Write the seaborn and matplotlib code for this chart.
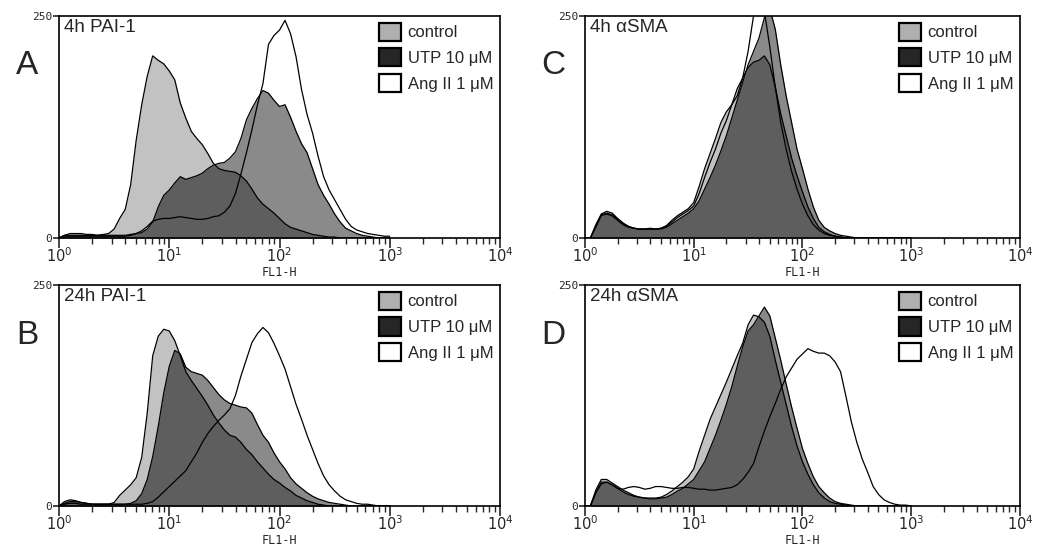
import numpy as np
import pandas as pd
import matplotlib
matplotlib.use("Agg")
import matplotlib.pyplot as plt
import seaborn as sns
from matplotlib.patches import Patch
from matplotlib.ticker import LogLocator, NullFormatter, FixedLocator, FixedFormatter

# =====================================================
# DATA  (histogram counts)
# =====================================================

# log10(FL1-H) positions of the histogram samples
LOG_FL1 = [
    0.00, 0.05, 0.10, 0.15, 0.20, 0.25, 0.30, 0.35, 0.40, 0.45,
    0.50, 0.55, 0.60, 0.65, 0.70, 0.75, 0.80, 0.85, 0.90, 0.95,
    1.00, 1.05, 1.10, 1.15, 1.20, 1.25, 1.30, 1.35, 1.40, 1.45,
    1.50, 1.55, 1.60, 1.65, 1.70, 1.75, 1.80, 1.85, 1.90, 1.95,
    2.00, 2.05, 2.10, 2.15, 2.20, 2.25, 2.30, 2.35, 2.40, 2.45,
    2.50, 2.55, 2.60, 2.65, 2.70, 2.75, 2.80, 2.85, 2.90, 2.95,
    3.00,
]

# A: 4h PAI-1
ctrl_A = [
    0, 3, 5, 5, 5, 4, 4, 3, 4, 5,
    10, 22, 32, 60, 110, 150, 182, 205, 200, 196,
    188, 178, 152, 135, 120, 112, 105, 95, 84, 78,
    76, 75, 74, 70, 64, 55, 45, 38, 33, 28,
    22, 16, 12, 10, 8, 6, 4, 3, 2, 1,
    1, 0, 0, 0, 0, 0, 0, 0, 0, 0,
    0,
]
utp_A = [
    0, 3, 3, 3, 3, 3, 3, 3, 3, 3,
    3, 3, 3, 4, 5, 6, 10, 18, 35, 48,
    54, 62, 69, 66, 68, 70, 73, 78, 82, 84,
    85, 90, 97, 112, 133, 146, 157, 166, 163, 155,
    148, 150, 136, 120, 106, 96, 78, 60, 48, 38,
    27, 18, 11, 8, 5, 3, 2, 1, 0, 0,
    0,
]
ang_A = [
    0, 2, 2, 2, 2, 2, 2, 2, 2, 2,
    2, 2, 2, 3, 5, 8, 13, 19, 21, 22,
    22, 23, 24, 23, 22, 21, 21, 22, 24, 25,
    29, 36, 50, 72, 96, 122, 150, 174, 218, 228,
    234, 245, 230, 204, 167, 139, 118, 92, 69, 54,
    43, 32, 21, 13, 9, 7, 5, 4, 3, 2,
    2,
]

# B: 24h PAI-1
ctrl_B = [
    0, 3, 5, 5, 4, 3, 2, 2, 2, 2,
    4, 12, 18, 24, 32, 55, 105, 170, 192, 200,
    198, 187, 170, 152, 142, 133, 124, 114, 103, 94,
    86, 80, 78, 72, 64, 58, 50, 43, 36, 30,
    26, 21, 17, 12, 9, 6, 4, 2, 1, 0,
    0, 0, 0, 0, 0, 0, 0, 0, 0, 0,
    0,
]
utp_B = [
    0, 5, 7, 6, 4, 3, 2, 2, 2, 2,
    2, 2, 2, 3, 6, 14, 30, 56, 90, 128,
    158, 176, 172, 157, 152, 150, 148, 142, 134, 126,
    120, 116, 114, 112, 111, 105, 92, 80, 72, 60,
    50, 42, 32, 25, 20, 15, 11, 8, 6, 4,
    3, 2, 1, 0, 0, 0, 0, 0, 0, 0,
    0,
]
ang_B = [
    0, 2, 3, 3, 2, 2, 2, 2, 2, 2,
    2, 2, 2, 2, 2, 2, 3, 5, 10, 16,
    22, 28, 34, 40, 50, 60, 72, 82, 90, 97,
    103, 110, 125, 147, 166, 185, 195, 202, 196, 184,
    170, 155, 135, 115, 98, 80, 64, 48, 34, 24,
    17, 11, 7, 5, 3, 2, 2, 1, 0, 0,
    0,
]

# C: 4h aSMA
ctrl_C = [
    0, 0, 15, 27, 30, 28, 22, 17, 13, 11,
    10, 10, 11, 10, 11, 14, 20, 25, 29, 33,
    40, 58, 78, 95, 112, 130, 142, 150, 168, 180,
    192, 198, 200, 205, 195, 170, 140, 115, 90, 70,
    52, 35, 22, 12, 7, 4, 2, 1, 0, 0,
    0, 0, 0, 0, 0, 0, 0, 0, 0, 0,
    0,
]
utp_C = [
    0, 0, 12, 25, 27, 25, 20, 15, 12, 11,
    10, 10, 10, 10, 10, 12, 16, 20, 24, 28,
    33, 42, 55, 68, 82, 98, 115, 135, 155, 175,
    195, 210, 225, 248, 258, 235, 195, 160, 130, 100,
    78, 55, 35, 20, 12, 8, 5, 3, 2, 1,
    0, 0, 0, 0, 0, 0, 0, 0, 0, 0,
    0,
]
ang_C = [
    0, 0, 13, 26, 28, 26, 21, 16, 13, 11,
    10, 10, 10, 10, 11, 13, 18, 23, 27, 31,
    36, 50, 68, 85, 100, 118, 132, 150, 160, 180,
    210, 250, 268, 255, 215, 170, 130, 100, 75, 55,
    38, 25, 15, 9, 5, 3, 2, 1, 0, 0,
    0, 0, 0, 0, 0, 0, 0, 0, 0, 0,
    0,
]

# D: 24h aSMA
ctrl_D = [
    0, 0, 18, 30, 30, 26, 22, 18, 15, 12,
    10, 9, 9, 9, 10, 13, 17, 22, 27, 33,
    42, 62, 80, 98, 112, 126, 140, 155, 170, 184,
    205, 216, 214, 208, 192, 165, 140, 115, 90, 68,
    50, 36, 24, 15, 9, 5, 3, 2, 1, 0,
    0, 0, 0, 0, 0, 0, 0, 0, 0, 0,
    0,
]
utp_D = [
    0, 0, 15, 27, 27, 24, 20, 16, 13, 11,
    10, 9, 8, 8, 9, 10, 13, 17, 20, 25,
    30, 40, 50, 65, 80, 97, 115, 135, 158, 180,
    198, 205, 215, 225, 215, 190, 165, 138, 112, 88,
    65, 48, 33, 22, 15, 9, 5, 3, 2, 1,
    0, 0, 0, 0, 0, 0, 0, 0, 0, 0,
    0,
]
ang_D = [
    0, 0, 15, 25, 27, 24, 20, 19, 21, 22,
    21, 19, 20, 22, 22, 21, 20, 20, 21, 21,
    20, 19, 19, 18, 18, 19, 20, 21, 24, 30,
    38, 48, 67, 85, 101, 116, 132, 146, 156, 166,
    172, 178, 175, 173, 173, 170, 163, 152, 124, 95,
    72, 53, 38, 22, 13, 7, 4, 2, 1, 1,
    0,
]

SAMPLES = ["control", "UTP 10 μM", "Ang II 1 μM"]
TITLES = ["4h PAI-1", "24h PAI-1", "4h αSMA", "24h αSMA"]
LETTERS = ["A", "B", "C", "D"]
DECADE_LABELS = ["$10^0$", "$10^1$", "$10^2$", "$10^3$", "$10^4$"]

# =====================================================
# STYLE
# =====================================================

sns.set_style("white")
plt.rcParams["font.family"] = ["Liberation Sans", "DejaVu Sans"]

LIGHT = "#c2c2c2"   # control alone
MID = "#8a8a8a"     # UTP alone
DARK = "#5e5e5e"    # control and UTP overlap
LEG_COLORS = ["#b0b0b0", "#262626", "white"]

fig = plt.figure(figsize=(10.5, 5.58), dpi=100)

panels = [
    (ctrl_A, utp_A, ang_A, [0.0562, 0.5735, 0.420, 0.398], (27, 65)),
    (ctrl_B, utp_B, ang_B, [0.0562, 0.0932, 0.420, 0.396], (27, 335)),
    (ctrl_C, utp_C, ang_C, [0.5571, 0.5735, 0.4143, 0.398], (553, 65)),
    (ctrl_D, utp_D, ang_D, [0.5571, 0.0932, 0.4143, 0.396], (553, 335)),
]

fl1 = 10 ** np.array(LOG_FL1)

for i, (c, u, a, rect, letter_px) in enumerate(panels):
    ax = fig.add_axes(rect)

    df = pd.DataFrame({
        "FL1": fl1,
        SAMPLES[0]: c,
        SAMPLES[1]: u,
        SAMPLES[2]: a,
    })

    # filled histograms
    ax.fill_between(df["FL1"], df[SAMPLES[0]], color=LIGHT, lw=0)
    ax.fill_between(df["FL1"], df[SAMPLES[1]], color=MID, lw=0)
    ax.fill_between(
        df["FL1"],
        np.minimum(df[SAMPLES[0]], df[SAMPLES[1]]),
        color=DARK,
        lw=0
    )

    # outlines
    long = df.melt(id_vars="FL1", var_name="sample", value_name="count")
    sns.lineplot(
        data=long,
        x="FL1",
        y="count",
        hue="sample",
        palette=["black"] * 3,
        linewidth=0.9,
        legend=False,
        sort=False,
        ax=ax
    )

    ax.set_xscale("log")
    ax.set_xlim(1, 1e4)
    ax.set_ylim(0, 250)

    for sp in ax.spines.values():
        sp.set_color("black")
        sp.set_linewidth(1.2)

    ax.xaxis.set_major_locator(FixedLocator([1, 10, 100, 1000, 10000]))
    ax.xaxis.set_major_formatter(FixedFormatter(DECADE_LABELS))
    ax.xaxis.set_minor_locator(LogLocator(base=10, subs=np.arange(2, 10)))
    ax.xaxis.set_minor_formatter(NullFormatter())
    ax.tick_params(axis="x", which="major", direction="out", length=7,
                   width=1.2, labelsize=10.5, pad=-1, bottom=True)
    ax.tick_params(axis="x", which="minor", direction="out", length=4,
                   width=1.0, bottom=True)

    ax.set_yticks([0, 250])
    ax.set_yticklabels(["0", "250"])
    ax.tick_params(axis="y", direction="out", length=4, width=1.2,
                   labelsize=8, pad=1, left=True)
    for lab in ax.get_yticklabels():
        lab.set_family("DejaVu Sans Mono")

    ax.set_xlabel("FL1-H", fontsize=8.5, family="DejaVu Sans Mono", labelpad=0.5)
    ax.set_ylabel("")

    ax.text(0.012, 0.985, TITLES[i], transform=ax.transAxes,
            ha="left", va="top", fontsize=13.5)

    handles = [
        Patch(facecolor=LEG_COLORS[k], edgecolor="black", linewidth=1.6,
              label=SAMPLES[k])
        for k in range(3)
    ]
    ax.legend(
        handles=handles,
        loc="upper right",
        bbox_to_anchor=(1.0, 1.0),
        frameon=False,
        fontsize=12,
        handlelength=1.3,
        handleheight=1.3,
        handletextpad=0.4,
        labelspacing=0.45,
        borderaxespad=0.2,
        borderpad=0.2
    )

    fig.text(letter_px[0] / 1050, 1 - letter_px[1] / 558, LETTERS[i],
             ha="center", va="center", fontsize=24)

fig.savefig("out.png", dpi=100)
